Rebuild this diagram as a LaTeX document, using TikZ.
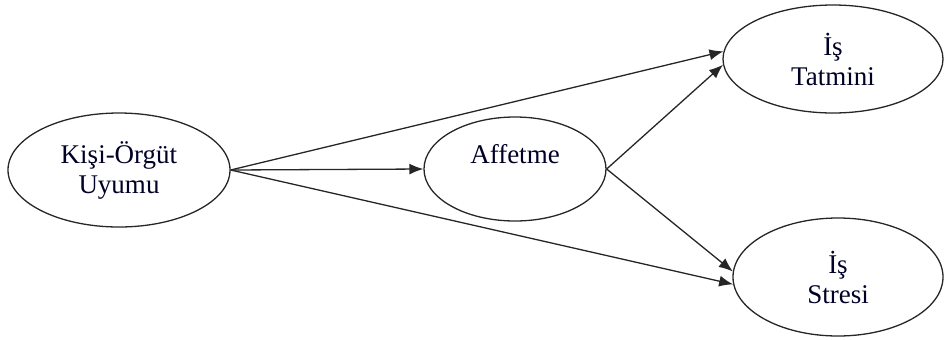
\documentclass[tikz,border=0pt]{standalone}
\usepackage{fontspec}
\setmainfont{Liberation Serif}
\usetikzlibrary{shapes.geometric,arrows.meta}
\begin{document}
\begin{tikzpicture}[x=0.5pt,y=-0.5pt,
  oval/.style={ellipse,draw=black!85,line width=0.65pt,inner sep=0pt,align=center,
    font=\fontsize{13.5pt}{15pt}\selectfont,text=black!85!blue},
  arr/.style={draw=black!85,line width=0.65pt,-{Latex[length=7pt,width=5.5pt]}}]
\useasboundingbox (0,0) rectangle (944,339);
\node[oval,minimum width=111pt,minimum height=57pt] (k) at (119,170) {Kişi-Örgüt\\Uyumu};
\node[oval,minimum width=91pt,minimum height=52pt] (a) at (515,169) {Affetme\\\mbox{}};
\node[oval,minimum width=110pt,minimum height=54pt] (t) at (833,59) {İş\\Tatmini};
\node[oval,minimum width=105pt,minimum height=59pt] (s) at (838,277) {İş\\Stresi};
\draw[arr] (k.east) -- (t.176);
\draw[arr] (k.east) -- (a.west);
\draw[arr] (k.east) -- (s.184);
\draw[arr] (a.east) -- (t.183);
\draw[arr] (a.east) -- (s.177);
\end{tikzpicture}
\end{document}
